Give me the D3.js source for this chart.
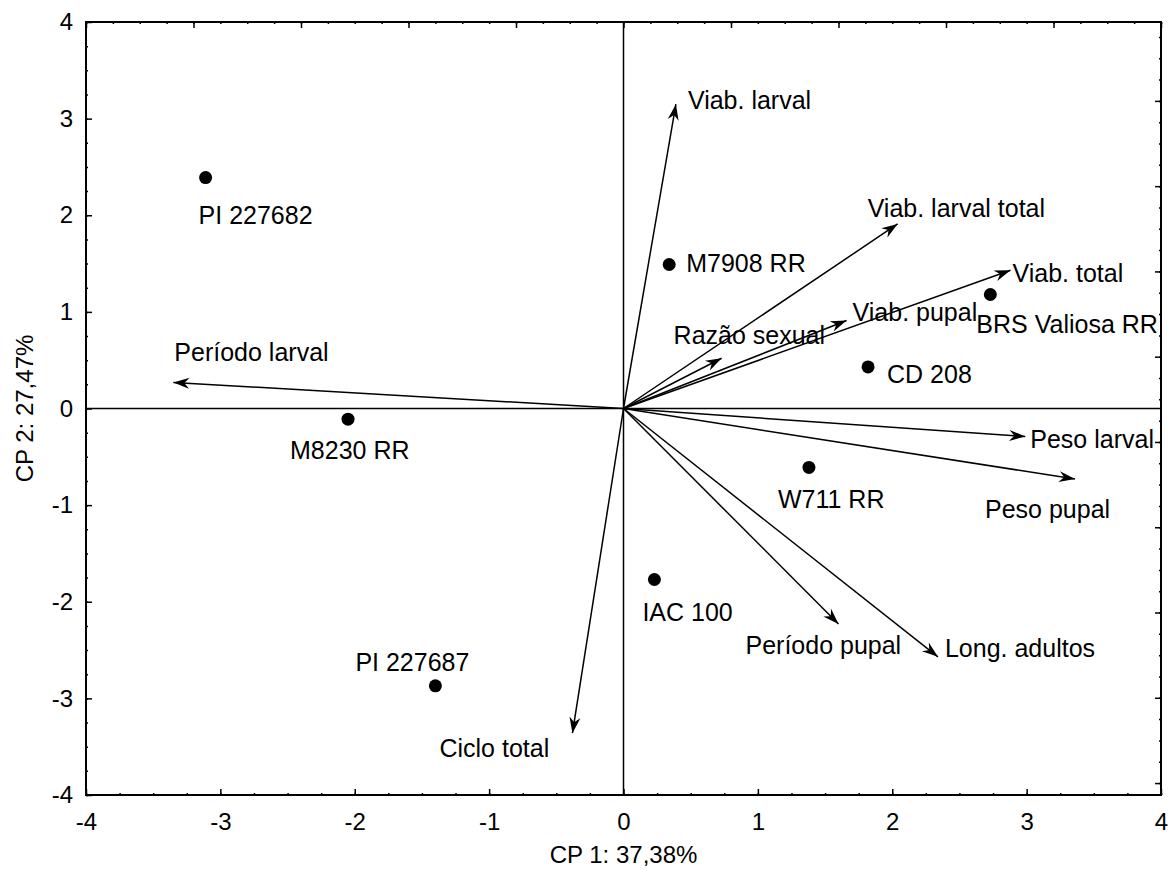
<html><head><title>CP biplot</title>
<style>
  body { margin: 0; background: #fff; }
  svg { font-family: Arial, 'Liberation Sans', sans-serif; }
  text { font-size: 25px; fill: #000; }
</style>
</head>
<body>
<svg id="chart" width="1173" height="883"></svg>
<script src="https://d3js.org/d3.v7.min.js"></script>
<script>
// genotypes (scores)
const genotypes = ["PI 227682", "M7908 RR", "BRS Valiosa RR", "CD 208", "M8230 RR", "W711 RR", "IAC 100", "PI 227687"];
const genoX = [-3.11, 0.34, 2.73, 1.82, -2.05, 1.38, 0.23, -1.40];
const genoY = [2.39, 1.49, 1.18, 0.43, -0.11, -0.61, -1.77, -2.87];

// variables (loadings, arrow tips)
const variables = ["Viab. larval", "Viab. larval total", "Viab. total", "Viab. pupal", "Razão sexual", "Período larval",
  "Peso larval", "Peso pupal", "Long. adultos", "Período pupal", "Ciclo total"];
const varX = [0.39, 2.04, 2.88, 1.66, 0.73, -3.35, 2.99, 3.36, 2.34, 1.60, -0.38];
const varY = [3.15, 1.91, 1.43, 0.91, 0.52, 0.27, -0.29, -0.73, -2.57, -2.23, -3.36];

const xTicks = [-4, -3, -2, -1, 0, 1, 2, 3, 4];
const yTicks = [-4, -3, -2, -1, 0, 1, 2, 3, 4];
const xTitle = "CP 1: 37,38%";
const yTitle = "CP 2: 27,47%";

// label offsets in px (dx, dy from the mark)
const genoLabelOff = [[-7, 46], [17, 7], [-14, 39], [19, 16], [-58, 40], [-31, 41], [-12, 41], [-80, -15]];
const varLabelOff = [[12, 5], [-30, -7], [2, 12], [6, 0], [-48, -14], [1, -21], [5, 11], [-90, 39], [7, 0], [-93, 30], [-133, 24]];

const svg = d3.select("#chart");
const mLeft = 86, mRight = 1161, mTop = 22, mBottom = 795;

const x = d3.scaleLinear().domain([-4, 4]).range([mLeft, mRight]);
const y = d3.scaleLinear().domain([-4, 4]).range([mBottom, mTop]);
// secondary (unlabelled) frame scales
const xTop = d3.scaleLinear().domain([-1, 1]).range([mLeft, mRight]);
const yRight = d3.scaleLinear().domain([-0.828, 0.985]).range([mBottom, mTop]);

const fmt = t => String(t);
const ax = svg.append("g");

// bottom axis
const bAxis = ax.append("g").attr("transform", `translate(0,${mBottom})`);
bAxis.call(d3.axisBottom(x).tickValues(d3.range(-4, 4.01, 0.25)).tickSize(-2).tickFormat(""));
bAxis.append("g").call(d3.axisBottom(x).tickValues(xTicks).tickSize(-6).tickFormat(fmt));
bAxis.selectAll("text").attr("y", 35).attr("dy", null).style("font-size", "24px").style("font-family", "Arial, 'Liberation Sans', sans-serif");

// left axis
const lAxis = ax.append("g").attr("transform", `translate(${mLeft},0)`);
lAxis.call(d3.axisLeft(y).tickValues(d3.range(-4, 4.01, 0.25)).tickSize(-2).tickFormat(""));
lAxis.append("g").call(d3.axisLeft(y).tickValues(yTicks).tickSize(-6).tickFormat(fmt));
lAxis.selectAll("text").attr("x", -13).style("font-size", "24px").style("font-family", "Arial, 'Liberation Sans', sans-serif");

// top axis
const tAxis = ax.append("g").attr("transform", `translate(0,${mTop})`);
tAxis.call(d3.axisTop(xTop).tickValues(d3.range(-1, 1.001, 0.05)).tickSize(-2).tickFormat(""));
tAxis.append("g").call(d3.axisTop(xTop).tickValues(d3.range(-1, 1.001, 0.2)).tickSize(-6).tickFormat(""));

// right axis
const rAxis = ax.append("g").attr("transform", `translate(${mRight},0)`);
rAxis.call(d3.axisRight(yRight).tickValues(d3.range(-0.8, 0.981, 0.05)).tickSize(-2).tickFormat(""));
rAxis.append("g").call(d3.axisRight(yRight).tickValues(d3.range(-0.8, 0.81, 0.2)).tickSize(-6).tickFormat(""));

ax.selectAll(".domain").remove();
ax.selectAll(".tick line").attr("stroke", "#000").attr("stroke-width", 1.5);

// frame
svg.append("rect").attr("x", mLeft).attr("y", mTop).attr("width", mRight - mLeft).attr("height", mBottom - mTop)
  .attr("fill", "none").attr("stroke", "#000").attr("stroke-width", 2);

// crosshair at origin
svg.append("line").attr("x1", mLeft).attr("x2", mRight).attr("y1", y(0)).attr("y2", y(0)).attr("stroke", "#000").attr("stroke-width", 1.5);
svg.append("line").attr("x1", x(0)).attr("x2", x(0)).attr("y1", mTop).attr("y2", mBottom).attr("stroke", "#000").attr("stroke-width", 1.5);

// arrowhead
svg.append("defs").append("marker")
  .attr("id", "arr").attr("viewBox", "-17 -6 18 12").attr("refX", 0).attr("refY", 0)
  .attr("markerWidth", 18).attr("markerHeight", 12).attr("markerUnits", "userSpaceOnUse").attr("orient", "auto")
  .append("path").attr("d", "M0,0 L-16,-5.5 L-11,0 L-16,5.5 Z").attr("fill", "#000");

// variable arrows
const vars = variables.map((v, i) => ({ name: v, x: varX[i], y: varY[i], off: varLabelOff[i] }));
svg.append("g").selectAll("line").data(vars).enter().append("line")
  .attr("x1", x(0)).attr("y1", y(0))
  .attr("x2", d => x(d.x)).attr("y2", d => y(d.y))
  .attr("stroke", "#000").attr("stroke-width", 1.5)
  .attr("marker-end", "url(#arr)");
svg.append("g").selectAll("text").data(vars).enter().append("text")
  .attr("x", d => x(d.x) + d.off[0]).attr("y", d => y(d.y) + d.off[1])
  .text(d => d.name);

// genotype points
const genos = genotypes.map((g, i) => ({ name: g, x: genoX[i], y: genoY[i], off: genoLabelOff[i] }));
svg.append("g").selectAll("circle").data(genos).enter().append("circle")
  .attr("cx", d => x(d.x)).attr("cy", d => y(d.y)).attr("r", 6.5).attr("fill", "#000");
svg.append("g").selectAll("text").data(genos).enter().append("text")
  .attr("x", d => x(d.x) + d.off[0]).attr("y", d => y(d.y) + d.off[1])
  .text(d => d.name);

// axis titles
svg.append("text").attr("x", (mLeft + mRight) / 2).attr("y", 863).attr("text-anchor", "middle").style("font-size", "24px").text(xTitle);
svg.append("text").attr("transform", `translate(33,${(mTop + mBottom) / 2}) rotate(-90)`).attr("text-anchor", "middle").style("font-size", "24px").text(yTitle);
</script>
</body></html>
